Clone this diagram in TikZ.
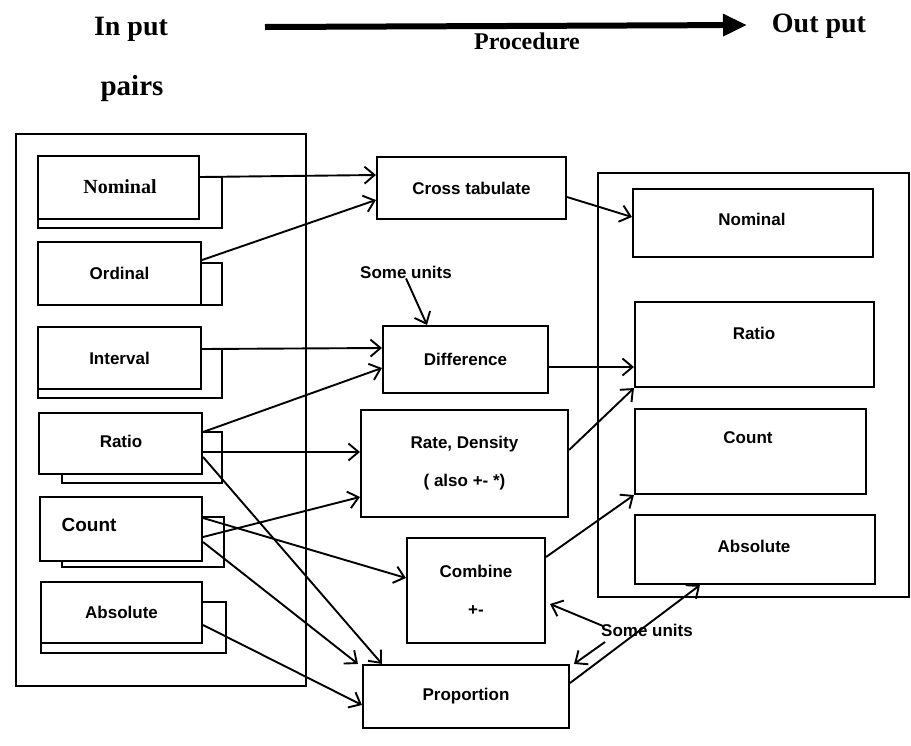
\documentclass[tikz,border=0pt]{standalone}
\usepackage{fontspec}
\setmainfont{Liberation Serif}
\newfontfamily\labelfont{Liberation Sans}
\usetikzlibrary{arrows.meta}

\begin{document}
\begin{tikzpicture}[x=1pt,y=-1pt,
  box/.style={draw, line width=2.1pt, fill=white, inner sep=0pt,
              font=\labelfont\bfseries\fontsize{17}{20}\selectfont},
  lbl/.style={inner sep=0pt, font=\labelfont\bfseries\fontsize{17}{20}\selectfont},
  serlbl/.style={inner sep=0pt, font=\bfseries\fontsize{20}{24}\selectfont},
  title/.style={inner sep=0pt, anchor=base, font=\bfseries\fontsize{28}{32}\selectfont},
  backbox/.style={draw, line width=2.1pt, fill=white},
  frame/.style={draw, line width=2pt},
  arr/.style={line width=1.9pt, -{Straight Barb[length=10pt,width=17pt,line width=1.9pt]}},
]
\useasboundingbox (0,0) rectangle (911,745);
\fill[white] (0,0) rectangle (911,745);

% ---- heading ----
\node[title] (inp) at (131,35) {In put};
\node[title, font=\bfseries\fontsize{29}{33}\selectfont] (pairs) at (132,95) {pairs};
\node[title] (outp) at (819,32) {Out put};
\node[title, font=\bfseries\fontsize{24}{28}\selectfont] (proc) at (527,49) {Procedure};
\coordinate (procL) at (265,27);
\coordinate (procR) at (747,25);
\draw[line width=6pt, -{Triangle[length=24pt,width=21pt]}] (procL) -- (procR);

% ---- input column ----
\draw[frame] (16,134) rectangle (306,686);
\draw[backbox] (38,177) rectangle (222,228);
\draw[backbox] (38,263) rectangle (222,305);
\draw[backbox] (38,349) rectangle (222,398);
\draw[backbox] (62,432) rectangle (222,483);
\draw[backbox] (62,517) rectangle (224,567);
\draw[backbox] (41,602) rectangle (226,653);

\node[box, minimum width=161pt, minimum height=63pt] (nomIn) at (118.5,187.5) {};
\node[serlbl] (nomInT) at (120,187) {Nominal};
\node[box, minimum width=163pt, minimum height=63pt] (ordIn) at (119.5,273.5) {Ordinal};
\node[box, minimum width=163pt, minimum height=62pt] (intIn) at (119.5,358) {Interval};
\node[box, minimum width=163pt, minimum height=61pt] (ratIn) at (120.5,443.5) {};
\node[lbl] (ratInT) at (121,441) {Ratio};
\node[box, minimum width=162pt, minimum height=64pt] (cntIn) at (121,529) {};
\node[lbl, font=\labelfont\bfseries\fontsize{19}{22}\selectfont] (cntInT) at (89,525) {Count};
\node[box, minimum width=161pt, minimum height=61pt] (absIn) at (121.5,612.5) {Absolute};

% ---- procedures ----
\node[box, minimum width=189pt, minimum height=62pt] (cross) at (471.5,188) {Cross tabulate};
\node[box, minimum width=165pt, minimum height=67pt] (diff) at (465.5,359.5) {Difference};
\node[box, minimum width=207pt, minimum height=107pt, align=center] (rate) at (464.5,463.5)
  {Rate, Density\\[18pt]( also +- *)};
\node[box, minimum width=138pt, minimum height=105pt, align=center] (comb) at (476,590.5)
  {Combine\\[18pt]+-};
\node[box, minimum width=206pt, minimum height=63pt] (prop) at (466,696.5) {Proportion};

% ---- output column ----
\draw[frame] (598,173) rectangle (909,597);
\node[box, minimum width=240pt, minimum height=68pt] (outNom) at (753,223) {};
\node[lbl] (outNomT) at (752,219) {Nominal};
\node[box, minimum width=239pt, minimum height=85pt] (outRat) at (754.5,344.5) {};
\node[lbl] (outRatT) at (754,333) {Ratio};
\node[box, minimum width=231pt, minimum height=85pt] (outCnt) at (750.5,451.5) {};
\node[lbl] (outCntT) at (748,438) {Count};
\node[box, minimum width=240pt, minimum height=69pt] (outAbs) at (755,549.5) {};
\node[lbl] (outAbsT) at (754,546) {Absolute};

% ---- unit notes ----
\node[lbl] (su1) at (406,272) {Some units};
\node[lbl] (su2) at (647,630) {Some units};
\coordinate (su2a) at (603,626);
\coordinate (su2b) at (605,642);

% ---- connectors: inputs to procedures ----
\draw[arr] (nomIn.east |- 0,177) -- (cross.west |- 0,175);
\draw[arr] (ordIn.east |- 0,260) -- (cross.west |- 0,200);
\draw[arr] (intIn.east |- 0,349) -- (diff.west |- 0,348);
\draw[arr] (ratIn.east |- 0,432) -- (diff.west |- 0,368);
\draw[arr] (ratIn.east |- 0,452) -- (rate.west |- 0,452);
\draw[arr] (ratIn.east |- 0,457) -- (prop.north -| 382,0);
\draw[arr] (cntIn.east |- 0,537) -- (rate.west |- 0,497);
\draw[arr] (cntIn.east |- 0,518) -- (comb.west |- 0,578);
\draw[arr] (cntIn.east |- 0,542) -- ([xshift=-4pt]prop.north west);
\draw[arr] (absIn.east |- 0,625) -- (prop.west |- 0,705);

% ---- connectors: procedures to outputs ----
\draw[arr] (cross.east |- 0,197) -- (outNom.west |- 0,217);
\draw[arr] (diff.east |- 0,367) -- (outRat.west |- 0,367);
\draw[arr] (rate.east |- 0,450) -- (outRat.south west);
\draw[arr] (comb.east |- 0,557) -- (outCnt.south west);
\draw[arr] (prop.east |- 0,683) -- (outAbs.south -| 700,0);

% ---- unit notes ----
\draw[arr] (su1.south) -- (diff.north -| 427,0);
\draw[arr] (su2a) -- ([xshift=4pt]comb.east |- 0,604);
\draw[arr] (su2b) -- ([xshift=4pt]prop.north east);
\end{tikzpicture}
\end{document}
